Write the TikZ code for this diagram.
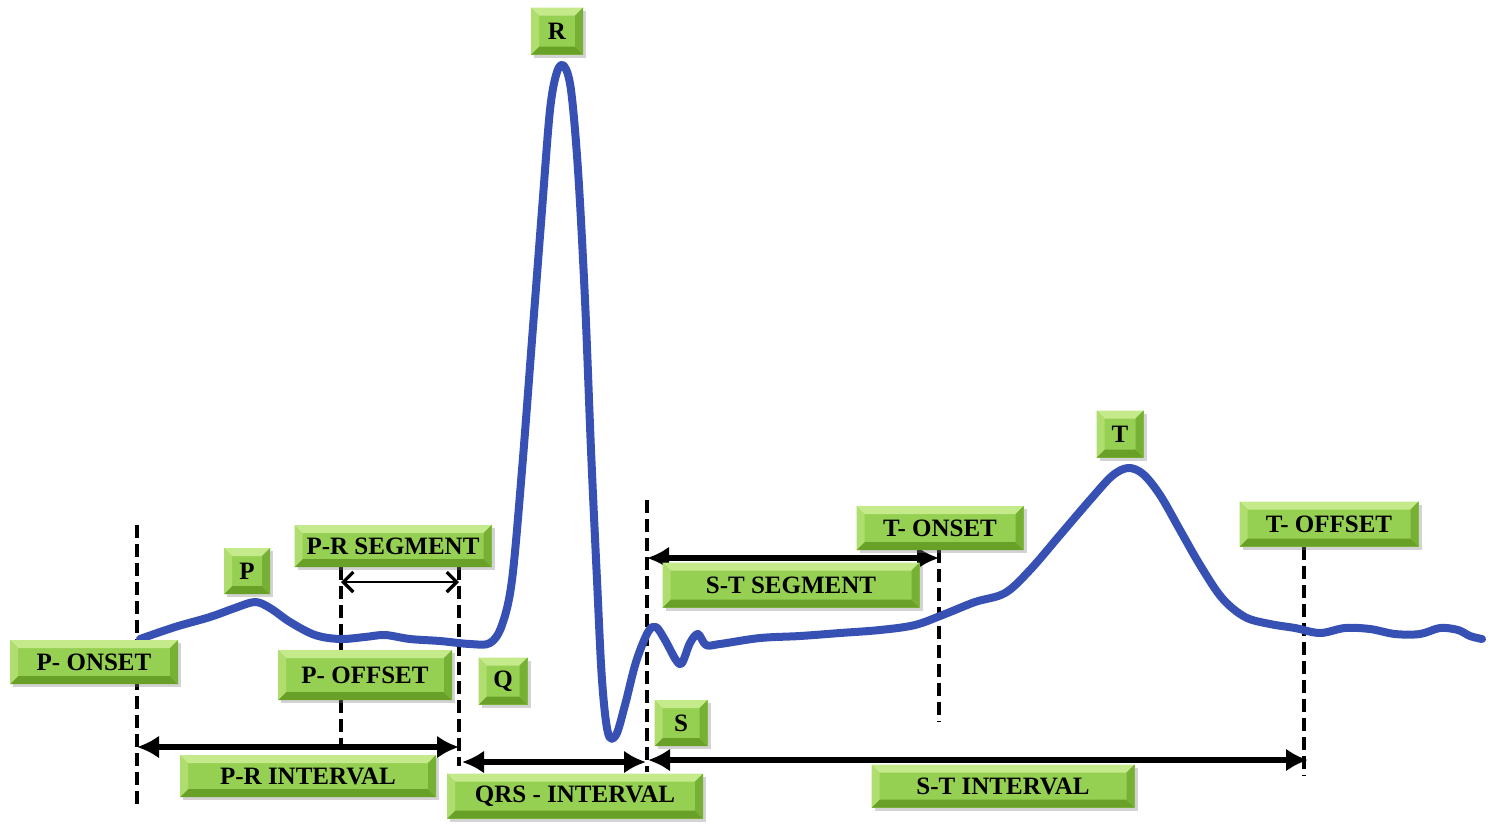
\documentclass[tikz,border=0pt]{standalone}
\usepackage{fontspec}
\setmainfont{Liberation Serif}
\usetikzlibrary{arrows.meta,shadows}
\definecolor{ecg}{RGB}{55,80,180}
\definecolor{gmid}{RGB}{150,208,82}
\definecolor{gtop}{RGB}{196,234,140}
\definecolor{gleft}{RGB}{176,222,110}
\definecolor{gright}{RGB}{118,176,52}
\definecolor{gbot}{RGB}{104,160,40}
\tikzset{
  lbl/.style={fill=gmid, inner sep=0pt, font=\fontsize{12.5}{14}\selectfont\bfseries,
    drop shadow={shadow xshift=1.5pt, shadow yshift=-1.5pt, opacity=0.35},
    path picture={
      \path (path picture bounding box.north west) coordinate (bA)
            (path picture bounding box.north east) coordinate (bB)
            (path picture bounding box.south east) coordinate (bC)
            (path picture bounding box.south west) coordinate (bD);
      \fill[gtop] (bA) -- (bB) -- ([shift={(-4pt,-4pt)}]bB) -- ([shift={(4pt,-4pt)}]bA) -- cycle;
      \fill[gbot] (bD) -- (bC) -- ([shift={(-4pt,4pt)}]bC) -- ([shift={(4pt,4pt)}]bD) -- cycle;
      \fill[gleft] (bA) -- (bD) -- ([shift={(4pt,4pt)}]bD) -- ([shift={(4pt,-4pt)}]bA) -- cycle;
      \fill[gright] (bB) -- (bC) -- ([shift={(-4pt,4pt)}]bC) -- ([shift={(-4pt,-4pt)}]bB) -- cycle;
    }},
  vdash/.style={line width=2.3pt, dash pattern=on 6.5pt off 3pt},
  bigarrow/.style={line width=2.8pt, {Latex[length=11pt,width=11.5pt]}-{Latex[length=11pt,width=11.5pt]}},
  thinarrow/.style={line width=1pt, {Straight Barb[length=5pt,width=10pt,line width=1.6pt]}-{Straight Barb[length=5pt,width=10pt,line width=1.6pt]}},
  wave/.style={ecg, line width=4pt, line cap=round, line join=round}
}
\begin{document}
\begin{tikzpicture}[x=0.5pt,y=-0.5pt]
\useasboundingbox (0,0) rectangle (1494,832);
% guide coordinates
\coordinate (d1t) at (137,525); \coordinate (d1b) at (137,805);
\coordinate (d2t) at (341,567); \coordinate (d2b) at (341,747);
\coordinate (d3t) at (459,567); \coordinate (d3b) at (459,766);
\coordinate (d4t) at (647,500); \coordinate (d4b) at (647,772);
\coordinate (d5t) at (939,550); \coordinate (d5b) at (939,722);
\coordinate (d6t) at (1304,547); \coordinate (d6b) at (1304,776);
% dashed verticals
\draw[vdash] (d1t) -- (d1b);
\draw[vdash] (d2t) -- (d2b);
\draw[vdash] (d3t) -- (d3b);
\draw[vdash] (d4t) -- (d4b);
\draw[vdash] (d5t) -- (d5b);
\draw[vdash] (d6t) -- (d6b);
% ECG wave
\draw[wave] plot[smooth, tension=0.55] coordinates {
 (140,639) (175,627) (210,617) (235,608) (255,602) (270,608) (290,622) (315,635)
 (340,639) (365,637) (385,635) (410,639) (440,641) (470,644) (490,643)
 (502,625) (512,580) (522,470) (532,340) (542,210) (550,110) (557,72) (564,66)
 (571,90) (578,170) (585,300) (591,450) (597,580) (602,680) (608,733) (616,735)
 (625,705) (636,662) (648,632) (656,627) (665,640) (676,660) (682,663) (690,643)
 (698,634) (706,645) (720,644) (760,638) (800,636) (840,633) (880,630)
 (915,625) (945,614) (975,602) (1005,593) (1030,570) (1060,535) (1090,500)
 (1112,476) (1128,468) (1143,474) (1160,495) (1180,530) (1200,565) (1222,598)
 (1245,617) (1270,624) (1295,628) (1320,633) (1345,628) (1370,629) (1395,634)
 (1420,634) (1440,628) (1458,630) (1470,636) (1482,639)};
% interval arrows
\draw[bigarrow] (137,747) -- (459,747);
\draw[thinarrow] (341,582) -- (459,582);
\draw[bigarrow] (462,762) -- (646,762);
\draw[bigarrow] (648,760) -- (1308,760);
\draw[bigarrow] (647,558) -- (939,558);
% labels
\node[lbl, minimum width=26pt, minimum height=23.5pt] (R) at (557,31) {R};
\node[lbl, minimum width=23pt, minimum height=23pt] (P) at (247,571) {P};
\node[lbl, minimum width=84pt, minimum height=22pt] (ponset) at (94,662) {P- ONSET};
\node[lbl, minimum width=98.5pt, minimum height=21pt] (prseg) at (393,546) {P-R SEGMENT};
\node[lbl, minimum width=87pt, minimum height=25pt] (poffset) at (365,675) {P- OFFSET};
\node[lbl, minimum width=24.5pt, minimum height=23.5pt] (Q) at (503,681) {Q};
\node[lbl, minimum width=26.5pt, minimum height=23pt] (S) at (681,723) {S};
\node[lbl, minimum width=128pt, minimum height=22.5pt] (qrs) at (575,796) {QRS - INTERVAL};
\node[lbl, minimum width=128pt, minimum height=21pt] (print) at (308,776) {P-R INTERVAL};
\node[lbl, minimum width=83.5pt, minimum height=22pt] (tonset) at (940,528) {T- ONSET};
\node[lbl, minimum width=128.5pt, minimum height=22.5pt] (stseg) at (791,585) {S-T SEGMENT};
\node[lbl, minimum width=23.5pt, minimum height=23.5pt] (T) at (1120,434) {T};
\node[lbl, minimum width=89.5pt, minimum height=22.5pt] (toffset) at (1329,524) {T- OFFSET};
\node[lbl, minimum width=131.5pt, minimum height=21.5pt] (stint) at (1003,786) {S-T INTERVAL};
\end{tikzpicture}
\end{document}
